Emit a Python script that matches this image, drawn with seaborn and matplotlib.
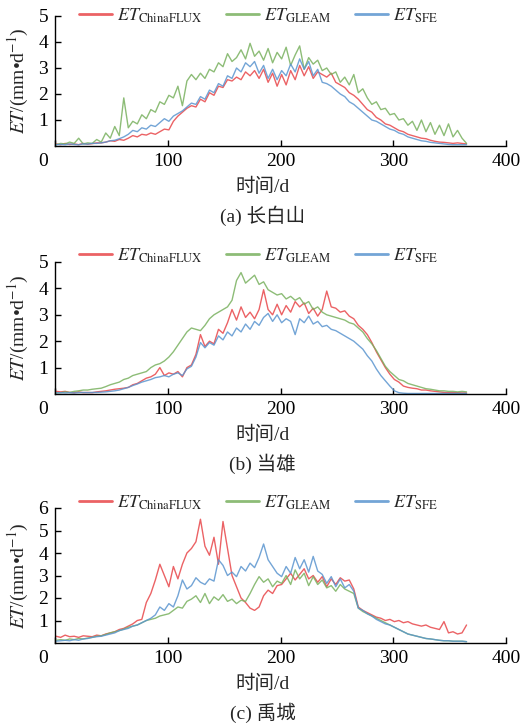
import numpy as np
import seaborn as sns
import matplotlib.pyplot as plt
from matplotlib.transforms import ScaledTranslation

# day of year, sampled every 4 days
days = np.arange(1, 366, 4)

# (a) 长白山
cf_a = [0.08, 0.05, 0.10, 0.06, 0.08, 0.05, 0.10, 0.07, 0.09, 0.12,
        0.12, 0.15, 0.20, 0.18, 0.25, 0.22, 0.30, 0.40, 0.35, 0.45,
        0.42, 0.50, 0.45, 0.55, 0.65, 0.62, 0.95, 1.15, 1.30, 1.45,
        1.55, 1.50, 1.80, 1.70, 2.05, 1.95, 2.30, 2.25, 2.55, 2.50,
        2.65, 2.55, 2.85, 2.70, 2.90, 2.60, 2.95, 2.45, 2.80, 2.30,
        2.75, 2.35, 2.90, 2.55, 3.10, 2.70, 3.05, 2.60, 2.85, 2.75,
        2.65, 2.80, 2.45, 2.35, 2.25, 2.05, 1.95, 1.80, 1.60, 1.40,
        1.30, 1.10, 1.00, 0.85, 0.80, 0.70, 0.60, 0.55, 0.45, 0.40,
        0.35, 0.30, 0.28, 0.22, 0.18, 0.15, 0.14, 0.12, 0.10, 0.12,
        0.10, 0.08]
gl_a = [0.05, 0.10, 0.08, 0.15, 0.10, 0.30, 0.08, 0.12, 0.10, 0.25,
        0.15, 0.50, 0.30, 0.75, 0.40, 1.85, 0.70, 0.95, 0.85, 1.20,
        1.05, 1.40, 1.30, 1.70, 1.60, 1.95, 1.85, 2.30, 1.55, 2.50,
        2.75, 2.55, 2.80, 2.60, 2.95, 2.85, 3.20, 3.05, 3.55, 3.25,
        3.40, 3.70, 3.35, 3.95, 3.45, 3.65, 3.30, 3.75, 3.20, 3.60,
        3.35, 3.80, 3.10, 3.50, 3.85, 2.95, 3.40, 3.15, 3.30, 2.90,
        3.00, 2.75, 2.85, 2.45, 2.65, 2.35, 2.75, 2.05, 2.20, 1.85,
        1.60, 1.70, 1.40, 1.45, 1.20, 1.25, 1.00, 1.05, 0.80, 0.95,
        0.60, 1.00, 0.55, 0.90, 0.45, 0.80, 0.40, 0.85, 0.35, 0.60,
        0.30, 0.10]
sf_a = [0.05, 0.06, 0.05, 0.08, 0.06, 0.05, 0.08, 0.07, 0.10, 0.10,
        0.12, 0.15, 0.20, 0.22, 0.28, 0.35, 0.45, 0.60, 0.55, 0.70,
        0.65, 0.80, 0.75, 0.90, 1.05, 0.95, 1.15, 1.25, 1.35, 1.50,
        1.65, 1.60, 1.90, 1.80, 2.15, 2.05, 2.40, 2.30, 2.70, 2.60,
        3.00, 2.85, 3.20, 3.05, 3.25, 2.80, 3.10, 2.60, 2.95, 2.55,
        2.90, 2.70, 3.15, 2.85, 3.35, 2.95, 3.25, 2.70, 2.95, 2.45,
        2.40, 2.30, 2.15, 2.00, 1.90, 1.70, 1.60, 1.45, 1.30, 1.15,
        1.00, 0.95, 0.85, 0.75, 0.65, 0.60, 0.50, 0.45, 0.35, 0.30,
        0.25, 0.20, 0.18, 0.14, 0.12, 0.10, 0.08, 0.06, 0.05, 0.05,
        0.05, 0.05]

# (b) 当雄
cf_b = [0.10, 0.08, 0.10, 0.06, 0.05, 0.08, 0.05, 0.06, 0.05, 0.08,
        0.10, 0.12, 0.15, 0.18, 0.20, 0.22, 0.25, 0.35, 0.40, 0.50,
        0.60, 0.65, 0.75, 1.00, 0.70, 0.80, 0.75, 0.85, 0.65, 1.00,
        1.10, 1.50, 2.25, 1.80, 2.00, 1.90, 2.45, 2.30, 2.70, 3.20,
        2.80, 3.30, 2.90, 3.10, 2.85, 3.20, 3.95, 3.20, 3.00, 3.40,
        3.00, 3.35, 3.10, 3.50, 3.30, 3.45, 3.05, 3.25, 2.95, 3.20,
        3.90, 3.30, 3.25, 3.10, 3.15, 2.95, 2.85, 2.60, 2.45, 2.25,
        1.95, 1.60, 1.30, 1.00, 0.75, 0.55, 0.45, 0.30, 0.25, 0.22,
        0.20, 0.15, 0.15, 0.12, 0.10, 0.08, 0.06, 0.05, 0.05, 0.05,
        0.04, 0.04]
gl_b = [0.05, 0.05, 0.08, 0.06, 0.10, 0.12, 0.15, 0.15, 0.18, 0.20,
        0.22, 0.28, 0.35, 0.40, 0.45, 0.55, 0.60, 0.70, 0.75, 0.80,
        0.85, 1.00, 1.10, 1.15, 1.25, 1.40, 1.60, 1.85, 2.10, 2.35,
        2.50, 2.45, 2.40, 2.60, 2.85, 3.00, 3.10, 3.20, 3.30, 3.55,
        4.30, 4.60, 4.20, 4.35, 4.50, 4.15, 4.25, 3.95, 3.85, 3.75,
        3.80, 3.60, 3.70, 3.55, 3.65, 3.40, 3.50, 3.20, 3.30, 3.10,
        3.00, 2.95, 2.90, 2.85, 2.80, 2.70, 2.65, 2.50, 2.35, 2.10,
        1.90, 1.65, 1.35, 1.05, 0.85, 0.70, 0.55, 0.50, 0.40, 0.35,
        0.30, 0.25, 0.20, 0.18, 0.15, 0.12, 0.12, 0.10, 0.10, 0.08,
        0.10, 0.08]
sf_b = [0.04, 0.05, 0.04, 0.05, 0.04, 0.05, 0.06, 0.05, 0.06, 0.06,
        0.07, 0.08, 0.10, 0.12, 0.15, 0.20, 0.25, 0.32, 0.38, 0.45,
        0.50, 0.55, 0.62, 0.65, 0.70, 0.65, 0.75, 0.80, 0.70, 0.95,
        1.05, 1.40, 1.95, 1.75, 1.95, 1.85, 2.20, 2.05, 2.35, 2.20,
        2.50, 2.35, 2.65, 2.45, 2.75, 2.60, 2.90, 3.05, 2.75, 3.00,
        2.70, 2.85, 2.75, 2.25, 2.85, 2.70, 2.95, 2.65, 2.75, 2.55,
        2.60, 2.45, 2.40, 2.30, 2.20, 2.10, 2.00, 1.85, 1.70, 1.45,
        1.25, 0.95, 0.70, 0.50, 0.30, 0.12, 0.05, 0.03, 0.02, 0.02,
        0.02, 0.02, 0.02, 0.02, 0.02, 0.02, 0.02, 0.02, 0.02, 0.02,
        0.02, 0.02]

# (c) 禹城
cf_c = [0.30, 0.25, 0.35, 0.28, 0.30, 0.25, 0.32, 0.30, 0.28, 0.35,
        0.32, 0.40, 0.45, 0.50, 0.60, 0.65, 0.75, 0.85, 1.00, 1.05,
        1.80, 2.20, 2.80, 3.50, 3.00, 2.50, 3.40, 2.85, 3.50, 4.00,
        4.20, 4.50, 5.50, 4.30, 3.90, 4.70, 3.50, 5.40, 4.20, 3.00,
        2.50, 2.00, 1.80, 1.55, 1.45, 1.60, 2.10, 2.35, 2.20, 2.55,
        2.60, 2.85, 3.10, 2.80, 3.05, 3.30, 2.85, 3.00, 2.70, 2.95,
        2.50, 2.85, 2.60, 2.90, 2.75, 2.80, 2.40, 1.60, 1.45, 1.35,
        1.25, 1.15, 1.10, 1.00, 1.05, 0.95, 1.00, 0.90, 0.95, 0.85,
        0.80, 0.75, 0.80, 0.70, 0.65, 0.60, 0.95, 0.45, 0.50, 0.40,
        0.45, 0.80]
gl_c = [0.12, 0.15, 0.12, 0.18, 0.15, 0.20, 0.18, 0.22, 0.25, 0.30,
        0.32, 0.38, 0.45, 0.50, 0.55, 0.62, 0.70, 0.75, 0.80, 0.90,
        1.00, 1.05, 1.10, 1.20, 1.25, 1.30, 1.45, 1.60, 1.55, 1.85,
        1.95, 2.10, 1.80, 2.20, 1.75, 2.05, 1.90, 2.15, 1.85, 1.95,
        1.75, 1.90, 1.85, 2.20, 2.60, 2.95, 2.70, 2.85, 2.50, 2.75,
        2.65, 3.00, 2.60, 3.25, 2.85, 3.10, 2.55, 2.95, 2.60, 2.80,
        2.45, 2.55, 2.30, 2.60, 2.40, 2.30, 2.20, 1.55, 1.40, 1.30,
        1.20, 1.10, 1.00, 0.90, 0.80, 0.70, 0.60, 0.50, 0.40, 0.35,
        0.30, 0.25, 0.20, 0.18, 0.15, 0.12, 0.10, 0.10, 0.08, 0.08,
        0.08, 0.06]
sf_c = [0.08, 0.10, 0.12, 0.10, 0.15, 0.12, 0.18, 0.20, 0.25, 0.28,
        0.30, 0.35, 0.40, 0.45, 0.55, 0.60, 0.65, 0.75, 0.80, 0.90,
        1.00, 1.10, 1.25, 1.60, 1.45, 1.75, 1.60, 2.10, 2.80, 2.40,
        2.55, 2.90, 2.70, 2.60, 2.85, 2.75, 3.70, 3.45, 3.00, 3.15,
        2.95, 3.40, 3.20, 3.55, 3.35, 3.80, 4.40, 3.70, 3.40, 3.10,
        2.95, 3.40, 3.10, 3.80, 3.30, 3.70, 3.15, 3.85, 3.20, 3.05,
        2.65, 2.95, 2.50, 2.85, 2.45, 2.60, 2.30, 1.55, 1.45, 1.30,
        1.20, 1.05, 0.95, 0.85, 0.80, 0.70, 0.60, 0.50, 0.40, 0.35,
        0.30, 0.25, 0.20, 0.18, 0.15, 0.12, 0.10, 0.10, 0.08, 0.08,
        0.08, 0.06]

# extra \quad after GLEAM mimics the wider third column of the original
labels = [r'$ET_{\mathrm{ChinaFLUX}}$', r'$ET_{\mathrm{GLEAM}}\quad$', r'$ET_{\mathrm{SFE}}$']
colors = ['#e8474a', '#79b15f', '#5b95cf']

sns.set_theme(style='ticks')
plt.rcParams['font.family'] = ['Liberation Serif', 'Noto Sans CJK SC']
plt.rcParams['mathtext.fontset'] = 'stix'

W, H = 525, 728
fig = plt.figure(figsize=(W / 100, H / 100), dpi=100)

# (series, ymax, caption, axes top px, axes bottom px, legend y in axes coords)
panels = [
    ((cf_a, gl_a, sf_a), 5, '(a) 长白山', 16, 146, 1.0),
    ((cf_b, gl_b, sf_b), 5, '(b) 当雄', 262, 394, 1.05),
    ((cf_c, gl_c, sf_c), 6, '(c) 禹城', 508, 643, 1.04),
]

for series, ymax, cap, top, bot, leg_y in panels:
    ax = fig.add_axes([55 / W, 1 - bot / H, 451 / W, (bot - top) / H])
    for vals, col, lab in zip(series, colors, labels):
        sns.lineplot(x=days, y=vals, ax=ax, color=col, lw=1.0, alpha=0.85, label=lab)

    ax.set_xlim(0, 400)
    ax.set_ylim(0, ymax)
    ax.set_xticks([0, 100, 200, 300, 400])
    ax.set_yticks(range(1, ymax + 1))
    ax.set_xlabel('')
    ax.set_ylabel('')
    for s in ['top', 'right']:
        ax.spines[s].set_visible(False)
    for s in ['left', 'bottom']:
        ax.spines[s].set_color('black')
        ax.spines[s].set_linewidth(1.0)
    ax.tick_params(direction='in', length=4, width=1, colors='black', labelsize=14)
    ax.tick_params(axis='x', pad=5)
    ax.tick_params(axis='y', pad=5)
    # the origin "0" sits left of the corner
    lbl0 = ax.get_xticklabels()[0]
    lbl0.set_transform(lbl0.get_transform() + ScaledTranslation(-0.12, 0, fig.dpi_scale_trans))

    leg = ax.legend(loc='center left', bbox_to_anchor=(24 / 451, leg_y), ncol=3,
                    frameon=False, fontsize=13, handlelength=1.8, handletextpad=0.3,
                    columnspacing=1.3, borderpad=0, borderaxespad=0)
    for h in leg.get_lines():
        h.set_linewidth(2.0)

    fig.text(18 / W, 1 - (top + bot) / 2 / H, r'$ET$/(mm•d$^{-1}$)', rotation=90,
             ha='center', va='center', fontsize=14)
    fig.text(0.5, 1 - (bot + 41) / H, '时间/d', ha='center', va='center', fontsize=14)
    fig.text(0.5, 1 - (bot + 70) / H, cap, ha='center', va='center', fontsize=14)

fig.savefig('out.png', dpi=100)
